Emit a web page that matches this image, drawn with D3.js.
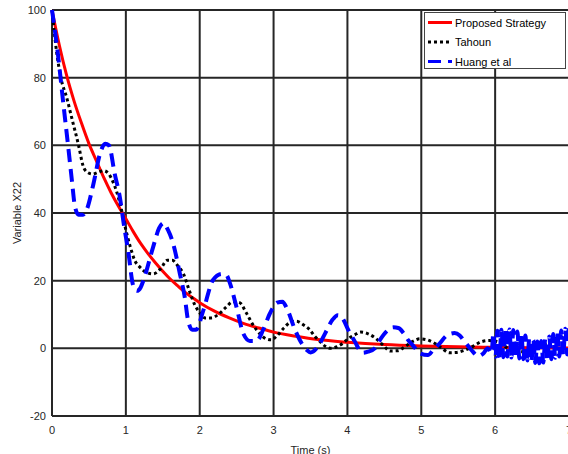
<!DOCTYPE html>
<html lang="en">
<head>
  <meta charset="UTF-8">
  <title>Variable X22</title>
  <style>
    body {
      margin: 0;
      background-color: white;
      font-family: "Liberation Sans", Arial, sans-serif;
    }

    .grid line {
      stroke: #262626;
      stroke-width: 2;
    }

    .tick-label {
      font-size: 11px;
      fill: #262626;
    }

    .legend-text {
      font-size: 11px;
      fill: #000;
    }
  </style>
</head>
<body>
  <svg class="chart" width="568" height="454"></svg>
  <script src="https://d3js.org/d3.v7.min.js"></script>
  <script>
    // x ticks / y ticks
    const xTicks = [0, 1, 2, 3, 4, 5, 6, 7];
    const yTicks = [-20, 0, 20, 40, 60, 80, 100];

    const seriesNames = ['Proposed Strategy', 'Tahoun', 'Huang et al'];

    // Proposed Strategy (red)
    const redT = [0, 0.1, 0.2, 0.3, 0.4, 0.5, 0.6, 0.7, 0.8, 0.9, 1.0, 1.1, 1.2, 1.3, 1.4, 1.5, 1.6, 1.7, 1.8, 1.9, 2.0,
      2.2, 2.4, 2.6, 2.8, 3.0, 3.3, 3.6, 4.0, 4.5, 5.0, 5.5, 6.0, 6.5, 7.0];
    const redV = [100, 89.5, 80.5, 73, 66.5, 60.5, 55.5, 50.5, 46, 42, 38.3, 34.5, 31, 28, 25.3, 22.8, 20.5, 18.5, 16.6, 15, 13.5,
      11, 9, 7.3, 6, 4.8, 3.6, 2.6, 1.8, 1.1, 0.7, 0.45, 0.3, 0.2, 0.1];

    // Tahoun (black dotted)
    const blackT = [0, 0.06, 0.12, 0.2, 0.28, 0.36, 0.42, 0.48, 0.55, 0.62, 0.7, 0.77, 0.83, 0.88, 0.94, 1.0, 1.06, 1.12,
      1.19, 1.27, 1.37, 1.47, 1.56, 1.63, 1.7, 1.78, 1.86, 1.93, 2.0, 2.07, 2.16, 2.25, 2.35, 2.45, 2.54, 2.63, 2.72, 2.81,
      2.9, 2.97, 3.05, 3.14, 3.22, 3.31, 3.4, 3.49, 3.56, 3.63, 3.7, 3.78, 3.86, 3.94, 4.02, 4.1, 4.18, 4.28, 4.38, 4.48,
      4.58, 4.68, 4.78, 4.88, 4.98, 5.08, 5.18, 5.28, 5.38, 5.48, 5.58, 5.7, 5.82, 5.92, 6.02, 6.12, 6.24, 6.36, 6.48, 6.6,
      6.72, 6.84, 6.96, 7.0];
    const blackV = [100, 88, 80, 74, 67, 60, 54, 52, 51.5, 52, 52.5, 51.5, 49, 46, 41, 35, 30, 26, 24, 22.5, 22, 23.5,
      26, 26, 24.5, 22, 17, 13, 10.5, 9, 9, 10, 12, 13.8, 13.5, 10.5, 7, 4.4, 2.8, 2.5, 3.8, 6, 7.6, 8, 7, 5.5, 3.5, 2,
      0.6, 0, 0.5, 1.5, 3, 4, 4.8, 4.3, 3, 1, -0.8, -0.7, 0.5, 2, 2.8, 2.5, 1.5, 0, -1.3, -1.2, -0.6, 0.6, 2, 2.3, 2, 0.8,
      -1, -1, -0.6, 0.5, 1.8, 3, 3.2, 3];

    // Huang et al (blue dashed), slow part
    const blueT = [0, 0.08, 0.15, 0.22, 0.27, 0.31, 0.36, 0.42, 0.47, 0.56, 0.65, 0.72, 0.77, 0.85, 0.92, 0.97, 1.03, 1.1,
      1.15, 1.2, 1.24, 1.37, 1.45, 1.51, 1.57, 1.64, 1.73, 1.8, 1.84, 1.9, 1.95, 2.05, 2.18, 2.3, 2.36, 2.41, 2.5, 2.59,
      2.68, 2.77, 2.86, 2.95, 3.05, 3.12, 3.18, 3.29, 3.38, 3.45, 3.5, 3.6, 3.7, 3.8, 3.87, 3.93, 4.01, 4.1, 4.2, 4.28,
      4.37, 4.45, 4.53, 4.62, 4.69, 4.76, 4.82, 4.9, 4.98, 5.09, 5.16, 5.23, 5.36, 5.45, 5.52, 5.57, 5.68, 5.77, 5.84, 5.9];
    const blueV = [100, 87, 73, 59.5, 49.5, 42, 39.5, 39.5, 41, 48.5, 57.5, 60.5, 60, 51.5, 44.5, 37, 29, 18.5,
      17, 18, 20.2, 30, 35.5, 37, 35, 31, 22.2, 14.8, 8.5, 5.5, 5.5, 11.3, 20.2, 22, 21.7, 19.2, 12, 4.4,
      2.2, 2.2, 5.5, 10.3, 13.5, 13.8, 11.8, 5.5, 1.5, -0.5, -1.2, 0.5, 4.5, 8.5, 9.8, 9, 5.5, 2, -1.3, -1,
      0, 2.8, 5, 6.2, 6, 4.5, 2.5, 0.5, -1.5, -2, -0.5, 1, 4, 4.5, 3.8, 2.5, -0.5, -2.3, -1.5, 0];

    // Huang et al, fast oscillation after t = 5.95 (peaks and troughs)
    const blueFastStart = 5.95;
    const blueFastStep = 0.027;
    const blueFastV = [-1.5, 4.5, -2.5, 5.2, -2.8, 5.5, -2.6, 5.8, -2.4, 5.6, -2.7, 5.4, -2.9, 5.0, -3.0, 4.6,
      -3.2, 3.8, -3.6, 3.0, -4.0, 2.4, -4.3, 2.0, -4.4, 2.2, -4.2, 2.8, -3.8, 3.5, -3.2, 4.2, -2.8, 4.8,
      -2.4, 5.3, -2.0, 5.8, -1.8, 6.0];

    const margin = { top: 10, left: 52 };
    const width = 517;
    const height = 406;

    const svg = d3.select('.chart');
    const g = svg.append('g')
      .attr('transform', `translate(${margin.left}, ${margin.top})`);

    const xScale = d3.scaleLinear().domain([0, 7]).range([0, width]);
    const yScale = d3.scaleLinear().domain([-20, 100]).range([height, 0]);

    // grid + box
    const grid = g.append('g').attr('class', 'grid');
    grid.selectAll('.vx')
      .data(xTicks)
      .enter()
      .append('line')
      .attr('x1', d => xScale(d))
      .attr('x2', d => xScale(d))
      .attr('y1', 0)
      .attr('y2', height);
    grid.selectAll('.hy')
      .data(yTicks)
      .enter()
      .append('line')
      .attr('x1', 0)
      .attr('x2', width)
      .attr('y1', d => yScale(d))
      .attr('y2', d => yScale(d));

    // tick labels
    g.selectAll('.xlab')
      .data(xTicks)
      .enter()
      .append('text')
      .attr('class', 'tick-label')
      .attr('x', d => xScale(d))
      .attr('y', height + 18)
      .attr('text-anchor', 'middle')
      .text(d => d);

    g.selectAll('.ylab')
      .data(yTicks)
      .enter()
      .append('text')
      .attr('class', 'tick-label')
      .attr('x', -6)
      .attr('y', d => yScale(d) + 4)
      .attr('text-anchor', 'end')
      .text(d => d);

    // axis titles
    g.append('text')
      .attr('class', 'tick-label')
      .attr('x', width / 2)
      .attr('y', height + 38)
      .attr('text-anchor', 'middle')
      .text('Time (s)');

    g.append('text')
      .attr('class', 'tick-label')
      .attr('transform', 'rotate(-90)')
      .attr('x', -height / 2)
      .attr('y', -31)
      .attr('text-anchor', 'middle')
      .text('Variable X22');

    const line = d3.line()
      .x(d => xScale(d[0]))
      .y(d => yScale(d[1]))
      .curve(d3.curveMonotoneX);

    const redData = redT.map((t, i) => [t, redV[i]]);
    const blackData = blackT.map((t, i) => [t, blackV[i]]);
    const blueData = blueT.map((t, i) => [t, blueV[i]])
      .concat(blueFastV.map((v, i) => [blueFastStart + i * blueFastStep, v]));

    const styles = [
      { color: '#ff0000', width: 3, dash: null },
      { color: '#000000', width: 3, dash: '3,3' },
      { color: '#0000ff', width: 4, dash: '13,7' }
    ];

    [redData, blackData, blueData].forEach((data, i) => {
      g.append('path')
        .datum(data)
        .attr('fill', 'none')
        .attr('stroke', styles[i].color)
        .attr('stroke-width', styles[i].width)
        .attr('stroke-dasharray', styles[i].dash)
        .attr('stroke-linejoin', 'round')
        .attr('d', line);
    });

    // legend
    const legend = svg.append('g').attr('transform', 'translate(424, 12)');
    legend.append('rect')
      .attr('x', 0.5)
      .attr('y', 0.5)
      .attr('width', 141)
      .attr('height', 56)
      .attr('fill', 'white')
      .attr('stroke', '#444')
      .attr('stroke-width', 1);

    seriesNames.forEach((name, i) => {
      const y = 10.5 + i * 19.5;
      legend.append('line')
        .attr('x1', 4)
        .attr('x2', 28)
        .attr('y1', y)
        .attr('y2', y)
        .attr('stroke', styles[i].color)
        .attr('stroke-width', i === 2 ? 3 : styles[i].width)
        .attr('stroke-dasharray', styles[i].dash);
      legend.append('text')
        .attr('class', 'legend-text')
        .attr('x', 31)
        .attr('y', y + 4)
        .text(name);
    });
  </script>
</body>
</html>
